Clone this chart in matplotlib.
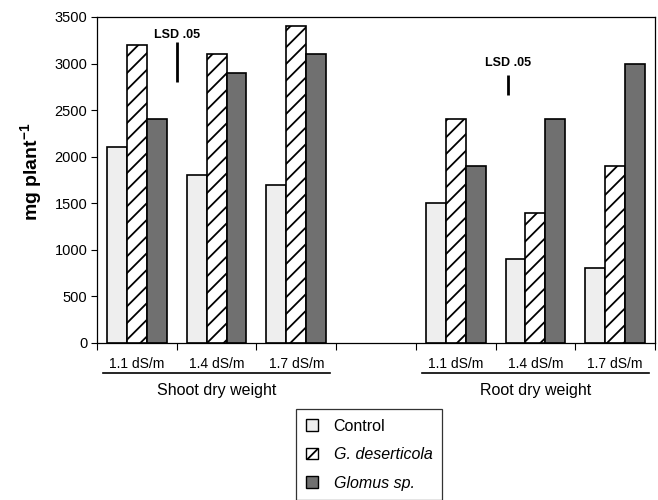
import numpy as np
import matplotlib
matplotlib.use("Agg")
import matplotlib.pyplot as plt
from matplotlib.patches import Patch

plt.rcParams['font.family'] = ['Liberation Sans', 'DejaVu Sans']
plt.rcParams['mathtext.fontset'] = 'custom'
plt.rcParams['mathtext.rm'] = 'Liberation Sans'
plt.rcParams['mathtext.bf'] = 'Liberation Sans:bold'
plt.rcParams['hatch.linewidth'] = 1.3

# data
salinity = ["1.1 dS/m", "1.4 dS/m", "1.7 dS/m"]
groups = ["Shoot dry weight", "Root dry weight"]
treatments = ["Control", "G. deserticola", "Glomus sp."]

shoot_control = [2100, 1800, 1700]
shoot_gdes = [3200, 3100, 3400]
shoot_glomus = [2400, 2900, 3100]

root_control = [1500, 900, 800]
root_gdes = [2400, 1400, 1900]
root_glomus = [1900, 2400, 3000]

# LSD .05 bars: (x position, bottom, top)
lsd_shoot = (0.5, 2800, 3230)
lsd_root = (4.66, 2660, 2880)

fig = plt.figure(figsize=(6.58, 5.0), dpi=100)
ax = fig.add_axes([97/658, 1-343/500, 558/658, 326/500])

shoot_x = np.arange(3)
root_x = np.arange(3) + 4
w = 0.25

styles = [dict(facecolor='#eeeeee', hatch=None),
          dict(facecolor='white', hatch='//'),
          dict(facecolor='#707070', hatch=None)]

shoot_vals = [shoot_control, shoot_gdes, shoot_glomus]
root_vals = [root_control, root_gdes, root_glomus]
for i in range(3):
    off = (i - 1) * w
    ax.bar(shoot_x + off, shoot_vals[i], width=w, edgecolor='black', linewidth=1.2, **styles[i])
    ax.bar(root_x + off, root_vals[i], width=w, edgecolor='black', linewidth=1.2, **styles[i])

ax.set_xlim(-0.5, 6.5)
ax.set_ylim(0, 3500)
ax.set_yticks(np.arange(0, 3501, 500))
ax.tick_params(axis='y', length=4, width=0.8, labelsize=10.5, pad=3)

ax.set_xticks(list(shoot_x) + list(root_x))
ax.set_xticklabels(salinity + salinity)
ax.set_xticks(np.arange(-0.5, 6.6, 1), minor=True)
ax.tick_params(axis='x', which='major', length=0, labelsize=10, pad=10)
ax.tick_params(axis='x', which='minor', length=5, width=0.8)

for s in ax.spines.values():
    s.set_linewidth(0.9)

ax.set_ylabel(r'mg plant$^{\mathbf{-1}}$', fontsize=14, fontweight='bold')
ax.yaxis.set_label_coords(-0.094, 0.525)

# LSD markers
for (lx, lo, hi), ty in [(lsd_shoot, 3310), (lsd_root, 3010)]:
    ax.plot([lx, lx], [lo, hi], color='black', lw=2, solid_capstyle='butt')
    ax.text(lx, ty, "LSD .05", ha='center', va='center', fontsize=9, fontweight='bold')

# group underlines and labels
trans = ax.get_xaxis_transform()
for (x0, x1), label in zip([(-0.42, 2.42), (3.58, 6.42)], groups):
    ax.plot([x0, x1], [-0.092, -0.092], color='black', lw=1.2, transform=trans, clip_on=False)
    ax.text((x0 + x1) / 2, -0.147, label, transform=trans, ha='center', va='center', fontsize=11.5)

handles = [Patch(edgecolor='black', linewidth=1.0, **styles[i]) for i in range(3)]
leg = fig.legend(handles, treatments, loc='upper left', bbox_to_anchor=(296/658, 1-409/500),
                 frameon=True, fancybox=False, edgecolor='black', fontsize=11.5,
                 handlelength=0.75, handleheight=0.75, labelspacing=0.85, borderpad=0.6,
                 handletextpad=1.0, borderaxespad=0)
leg.get_frame().set_linewidth(0.9)
leg.get_texts()[1].set_style('italic')
leg.get_texts()[2].set_style('italic')

fig.savefig('out.png', dpi=100)
